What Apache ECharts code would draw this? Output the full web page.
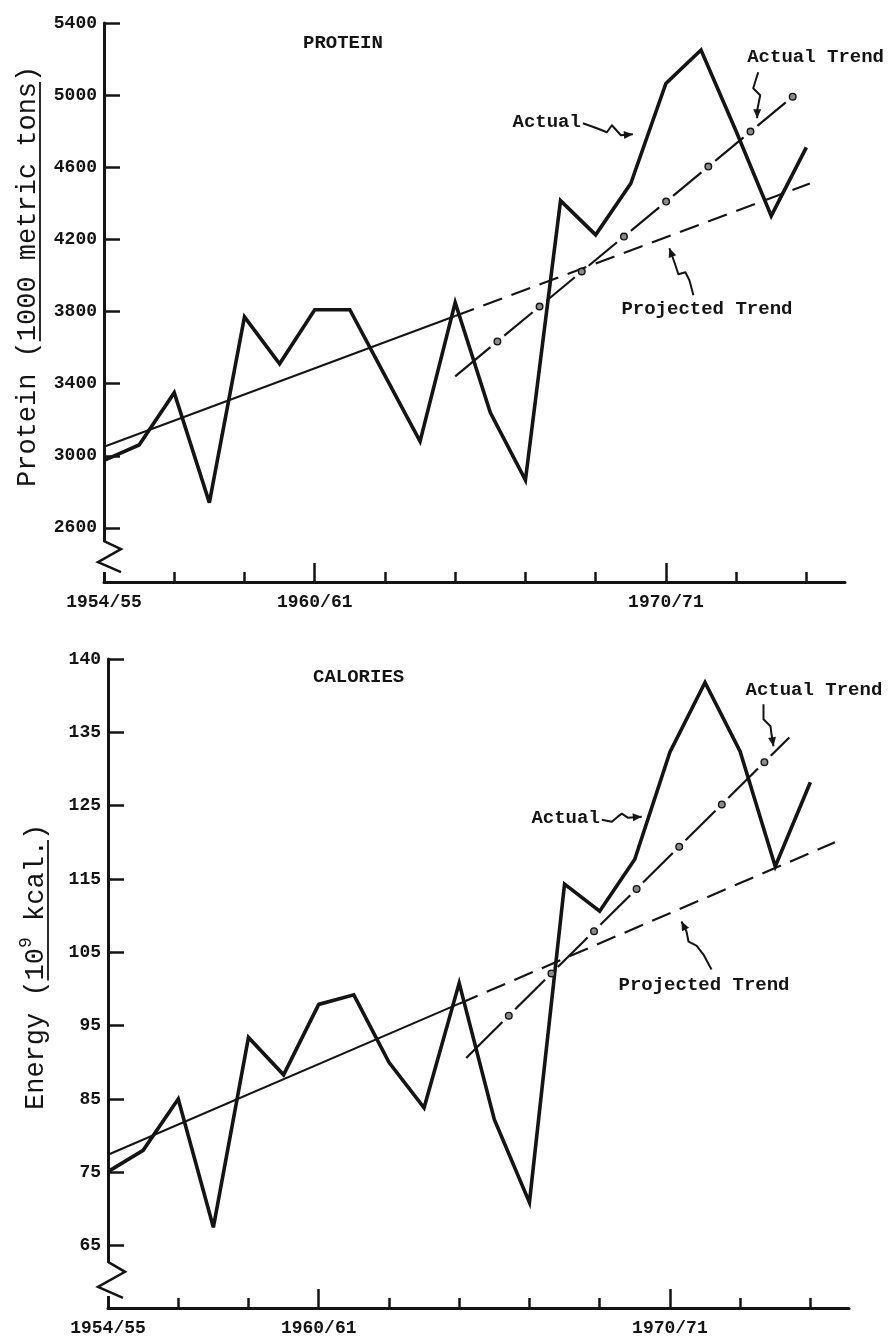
<!DOCTYPE html>
<html>
<head>
<meta charset="utf-8">
<script src="https://cdn.jsdelivr.net/npm/echarts@6/dist/echarts.min.js"></script>
<style>
  html, body { margin: 0; padding: 0; background: #fff; }
  #chart { width: 890px; height: 1340px; }
</style>
</head>
<body>
<div id="chart"></div>
<script>
// Seasons are counted from 1954/55 (0) to 1974/75 (20)
const seasons = [0,1,2,3,4,5,6,7,8,9,10,11,12,13,14,15,16,17,18,19,20];

// Protein, 1000 metric tons
const proteinActual = [2975, 3060, 3350, 2740, 3770, 3510, 3810, 3810, 3445, 3080,
                       3850, 3240, 2865, 4415, 4225, 4510, 5065, 5250, 4800, 4330, 4710];
const proteinProjectedSolid = [[0, 3050], [10, 3775]];
const proteinProjectedDashed = [[10, 3775], [20.1, 4510]];
const proteinActualTrend = [10, 3440, 19.6, 4990];
const proteinTicks = [2600, 3000, 3400, 3800, 4200, 4600, 5000, 5400];

// Energy, 10^9 kcal
const energyActual = [75.1, 78, 85, 67.5, 93.4, 88.3, 97.9, 99.2, 90, 83.8,
                      100.8, 82.2, 70.9, 114.3, 110.6, 117.7, 132.3, 141.8, 132.4, 116.7, 128.2];
const energyProjectedSolid = [[0, 77.4], [10, 98]];
const energyProjectedDashed = [[10, 98], [20.7, 120]];
const energyActualTrend = [10.2, 90.6, 19.4, 134.3];
const energyTicks = [65, 75, 85, 95, 105, 115, 125, 135, 145];
const energyTickLabels = ['65', '75', '85', '95', '105', '115', '125', '135', '140'];

// Season axis
const seasonTicks = [0, 2, 4, 6, 8, 10, 12, 14, 16, 18, 20];
const seasonLabelPos = [0, 6, 16];
const seasonLabelText = ['1954/55', '1960/61', '1970/71'];

const FONT = "'Liberation Mono', 'Courier New', monospace";
const INK = '#141414';

const chart = echarts.init(document.getElementById('chart'), null, { renderer: 'canvas' });

function xAxes(gridIndex) {
  return [
    {
      type: 'value', gridIndex, min: 0, max: 21.1, position: 'bottom',
      axisLine: { show: true, lineStyle: { color: INK, width: 3 } },
      axisTick: { show: true, inside: true, length: 10, customValues: seasonTicks,
                  lineStyle: { color: INK, width: 2.5 } },
      axisLabel: { show: true, customValues: seasonLabelPos, margin: 11,
                   formatter: v => seasonLabelText[seasonLabelPos.indexOf(v)],
                   color: INK, fontFamily: FONT, fontWeight: 'bold', fontSize: 18 },
      splitLine: { show: false }
    },
    {
      type: 'value', gridIndex, min: 0, max: 21.1, position: 'bottom',
      axisLine: { show: false },
      axisTick: { show: true, inside: true, length: 19, customValues: [6, 16],
                  lineStyle: { color: INK, width: 2.5 } },
      axisLabel: { show: false },
      splitLine: { show: false }
    }
  ];
}

function yAxis(gridIndex, min, max, ticks, fmt) {
  return {
    type: 'value', gridIndex, min, max,
    axisLine: { show: true, lineStyle: { color: INK, width: 3 } },
    axisTick: { show: true, inside: true, length: 16, customValues: ticks,
                lineStyle: { color: INK, width: 2.5 } },
    axisLabel: { show: true, customValues: ticks, margin: 7, formatter: fmt,
                 color: INK, fontFamily: FONT, fontWeight: 'bold', fontSize: 18 },
    splitLine: { show: false }
  };
}

// Dash-and-dot trend line drawn between two data endpoints
function trendSeries(xAxisIndex, yAxisIndex, item, period) {
  return {
    type: 'custom', xAxisIndex, yAxisIndex, silent: true, z: 4,
    encode: { x: [0, 2], y: [1, 3] },
    data: [item],
    renderItem: function (params, api) {
      const a = api.coord([api.value(0), api.value(1)]);
      const b = api.coord([api.value(2), api.value(3)]);
      const dx = b[0] - a[0], dy = b[1] - a[1];
      const L = Math.hypot(dx, dy), ux = dx / L, uy = dy / L;
      const g = 9;
      const pt = s => [a[0] + ux * s, a[1] + uy * s];
      const children = [];
      for (let k = 0; k * period < L; k++) {
        const s0 = k === 0 ? 0 : k * period + g;
        const s1 = Math.min((k + 1) * period - g, L);
        if (s1 > s0 + 1) {
          const p0 = pt(s0), p1 = pt(s1);
          children.push({ type: 'line', shape: { x1: p0[0], y1: p0[1], x2: p1[0], y2: p1[1] },
                          style: { stroke: INK, lineWidth: 2.2 } });
        }
      }
      for (let k = 1; k * period <= L + 2; k++) {
        const p = pt(k * period);
        children.push({ type: 'circle', shape: { cx: p[0], cy: p[1], r: 3.3 },
                        style: { fill: '#8a8a8a', stroke: INK, lineWidth: 1.4 } });
      }
      return { type: 'group', children };
    }
  };
}

function lineSeries(xAxisIndex, yAxisIndex, data, width, dash) {
  return {
    type: 'line', xAxisIndex, yAxisIndex, data, showSymbol: false, symbol: 'none',
    silent: true, z: 3,
    lineStyle: { color: INK, width, type: dash || 'solid', join: 'miter', miterLimit: 4 }
  };
}

chart.setOption({
  animation: false,
  backgroundColor: '#fff',
  grid: [
    { left: 104, top: 23, width: 741, height: 559, containLabel: false, outerBoundsMode: 'none' },
    { left: 108, top: 659, width: 741, height: 649, containLabel: false, outerBoundsMode: 'none' }
  ],
  title: [
    { text: 'PROTEIN', left: 298, top: 29,
      textStyle: { fontFamily: FONT, fontWeight: 'bold', fontSize: 19, color: INK } },
    { text: 'CALORIES', left: 308, top: 663,
      textStyle: { fontFamily: FONT, fontWeight: 'bold', fontSize: 19, color: INK } }
  ],
  xAxis: [...xAxes(0), ...xAxes(1)],
  yAxis: [
    yAxis(0, 2300, 5400, proteinTicks, v => String(v)),
    yAxis(1, 56.5, 145, energyTicks, v => energyTickLabels[energyTicks.indexOf(v)])
  ],
  series: [
    lineSeries(0, 0, seasons.map((s, i) => [s, proteinActual[i]]), 3.6),
    lineSeries(0, 0, proteinProjectedSolid, 2),
    lineSeries(0, 0, proteinProjectedDashed, 2.2, [20, 10]),
    trendSeries(0, 0, proteinActualTrend, 54.8),
    lineSeries(2, 1, seasons.map((s, i) => [s, energyActual[i]]), 3.6),
    lineSeries(2, 1, energyProjectedSolid, 2),
    lineSeries(2, 1, energyProjectedDashed, 2.2, [20, 10]),
    trendSeries(2, 1, energyActualTrend, 60)
  ]
});

// ---- Annotations: labels with squiggle arrows pointing at the lines ----
// tip is in data coordinates; path and text offsets are in pixels from the tip
const annotations = [
  { axes: [0, 0], tip: [15.06, 4783], text: 'Actual', textOff: [-52, -12], align: 'right',
    path: [[-50, -11], [-36, -6], [-26, -2], [-21, -9], [-12, 1], [0, 0]] },
  { axes: [0, 0], tip: [18.6, 4872], text: 'Actual Trend', textOff: [-10, -61], align: 'left',
    path: [[1, -46], [-4, -30], [3, -23], [0, -8], [0, 0]] },
  { axes: [0, 0], tip: [16.1, 4151], text: 'Projected Trend', textOff: [-48, 61], align: 'left',
    path: [[24, 47], [20, 32], [16, 24], [9, 26], [5, 14], [0, 0]] },
  { axes: [2, 1], tip: [15.2, 123.5], text: 'Actual', textOff: [-42, 2], align: 'right',
    path: [[-40, 3], [-30, 5], [-24, 0], [-20, -3], [-14, 1], [0, 0]] },
  { axes: [2, 1], tip: [18.95, 133.1], text: 'Actual Trend', textOff: [-28, -56], align: 'left',
    path: [[-10, -42], [-10, -27], [-3, -20], [-2, -12], [0, 0]] },
  { axes: [2, 1], tip: [16.33, 109.2], text: 'Projected Trend', textOff: [-63, 64], align: 'left',
    path: [[30, 48], [22, 33], [15, 24], [7, 20], [5, 10], [0, 0]] }
];

// Axis breaks on the value axes (values between which the axis is cut)
const axisBreaks = [
  { axes: [0, 0], from: 2527, to: 2350, zig: [[0, 0], [17, 8], [-6, 21], [17, 31]] },
  { axes: [2, 1], from: 62.8, to: 58.0, zig: [[0, 0], [17, 10], [-10, 25], [15, 36]] }
];

const toPx = (axes, p) => chart.convertToPixel({ xAxisIndex: axes[0], yAxisIndex: axes[1] }, p);

const graphics = [];

annotations.forEach(a => {
  const t = toPx(a.axes, a.tip);
  const pts = a.path.map(o => [t[0] + o[0], t[1] + o[1]]);
  graphics.push({ type: 'polyline', z: 50, silent: true,
    shape: { points: pts }, style: { stroke: INK, lineWidth: 2, fill: null, lineJoin: 'round' } });
  const p = pts[pts.length - 2];
  const ang = Math.atan2(t[1] - p[1], t[0] - p[0]);
  const len = 9, hw = 4;
  const bx = t[0] - Math.cos(ang) * len, by = t[1] - Math.sin(ang) * len;
  const nx = -Math.sin(ang) * hw, ny = Math.cos(ang) * hw;
  graphics.push({ type: 'polygon', z: 50, silent: true,
    shape: { points: [[t[0], t[1]], [bx + nx, by + ny], [bx - nx, by - ny]] },
    style: { fill: INK } });
  graphics.push({ type: 'text', z: 50, silent: true,
    x: t[0] + a.textOff[0], y: t[1] + a.textOff[1],
    style: { text: a.text, font: 'bold 19px ' + FONT, fill: INK,
             align: a.align, verticalAlign: 'middle' } });
});

axisBreaks.forEach(b => {
  const p0 = toPx(b.axes, [0, b.from]);
  const p1 = toPx(b.axes, [0, b.to]);
  graphics.push({ type: 'rect', z: 60, silent: true,
    shape: { x: p0[0] - 3, y: p0[1] + 1, width: 6, height: p1[1] - p0[1] - 2 },
    style: { fill: '#fff' } });
  graphics.push({ type: 'polyline', z: 61, silent: true,
    shape: { points: b.zig.map(o => [p0[0] + o[0], p0[1] + o[1]]) },
    style: { stroke: INK, lineWidth: 2.5, fill: null } });
});

// ---- Rotated value-axis titles with the unit underlined ----
const mctx = document.createElement('canvas').getContext('2d');
function textWidth(s, font) { mctx.font = font; return mctx.measureText(s).width; }

function axisTitle(x, startY, parts, underlineOff) {
  let s = 0;
  parts.forEach(part => {
    const w = part.width;
    graphics.push({ type: 'text', z: 50, silent: true, rotation: Math.PI / 2,
      x: x + (part.dx || 0), y: startY - s,
      style: Object.assign({ fill: INK, align: 'left', verticalAlign: 'middle' }, part.style) });
    if (part.underline) {
      graphics.push({ type: 'line', z: 50, silent: true,
        shape: { x1: x + underlineOff, y1: startY - s, x2: x + underlineOff, y2: startY - s - w },
        style: { stroke: INK, lineWidth: 1.8 } });
    }
    s += w;
  });
}

const TF = '27px ' + FONT;
axisTitle(28, 487, [
  { style: { text: 'Protein (', font: TF }, width: textWidth('Protein (', TF) },
  { style: { text: '1000 metric tons', font: TF }, width: textWidth('1000 metric tons', TF), underline: true },
  { style: { text: ')', font: TF }, width: textWidth(')', TF) }
], 12);

const SF = '18px ' + FONT;
axisTitle(36, 1110, [
  { style: { text: 'Energy (', font: TF }, width: textWidth('Energy (', TF) },
  { style: { text: '{n|10}{sup|9}{n| kcal.}', font: TF,
             rich: { n: { font: TF, lineHeight: 32, verticalAlign: 'bottom' },
                     sup: { font: SF, lineHeight: 32, verticalAlign: 'top' } } },
    width: textWidth('10', TF) + textWidth('9', SF) + textWidth(' kcal.', TF),
    underline: true, dx: -3 },
  { style: { text: ')', font: TF }, width: textWidth(')', TF) }
], 12);

chart.setOption({ graphic: graphics });
</script>
</body>
</html>
